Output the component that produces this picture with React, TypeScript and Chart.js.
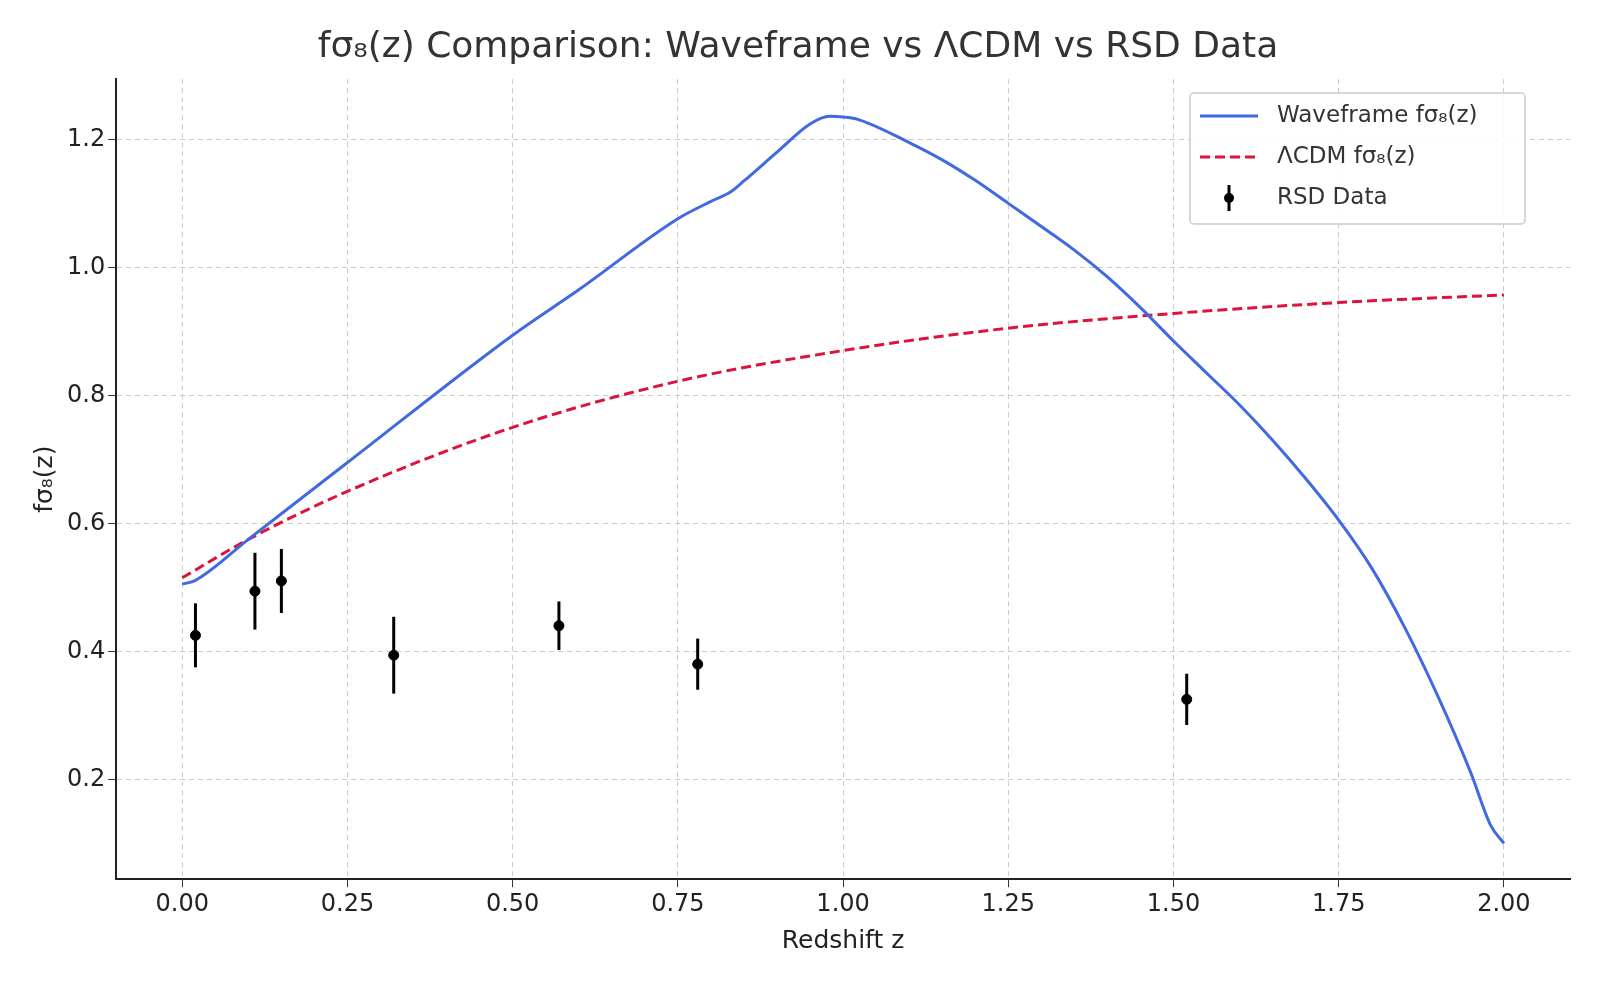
import { useRef, useEffect } from 'react';
import { Chart, registerables } from 'chart.js';

Chart.register(...registerables);

const waveZ = [0, 0.02, 0.1, 0.25, 0.5, 0.6, 0.75, 0.8, 0.83, 0.85, 0.9, 0.95, 0.98, 1.0, 1.02, 1.1, 1.15, 1.2, 1.25, 1.3, 1.35, 1.4, 1.45, 1.5, 1.55, 1.6, 1.65, 1.7, 1.75, 1.8, 1.85, 1.9, 1.95, 1.98, 2.0];
const waveF = [0.505, 0.511, 0.575, 0.695, 0.894, 0.965, 1.076, 1.103, 1.118, 1.135, 1.18, 1.224, 1.236, 1.235, 1.232, 1.195, 1.168, 1.136, 1.1, 1.064, 1.027, 0.985, 0.937, 0.885, 0.835, 0.785, 0.73, 0.67, 0.605, 0.53, 0.437, 0.33, 0.21, 0.128, 0.1];

const lcdmZ = [0, 0.1, 0.25, 0.5, 0.75, 1.0, 1.25, 1.5, 1.75, 2.0];
const lcdmF = [0.515, 0.575, 0.65, 0.75, 0.822, 0.87, 0.905, 0.928, 0.945, 0.957];

const rsdZ = [0.02, 0.11, 0.15, 0.32, 0.57, 0.78, 1.52];
const rsdF = [0.425, 0.494, 0.51, 0.394, 0.44, 0.38, 0.325];
const rsdErr = [0.05, 0.06, 0.05, 0.06, 0.038, 0.04, 0.04];

const xTicks = [0, 0.25, 0.5, 0.75, 1, 1.25, 1.5, 1.75, 2];
const yTicks = [0.2, 0.4, 0.6, 0.8, 1.0, 1.2];
const FONT = 'DejaVu Sans';

const App = () => {
  const canvasRef = useRef<HTMLCanvasElement | null>(null);

  useEffect(() => {
    if (!canvasRef.current) return;

    // error bars + legend drawn on the canvas
    const extras = {
      id: 'extras',
      afterDatasetsDraw(chart: any) {
        const ctx = chart.ctx;
        const xs = chart.scales.x;
        const ys = chart.scales.y;
        ctx.save();
        ctx.strokeStyle = '#000';
        ctx.fillStyle = '#000';
        ctx.lineWidth = 3;
        ctx.setLineDash([]);
        rsdZ.forEach((z, i) => {
          const px = xs.getPixelForValue(z);
          ctx.beginPath();
          ctx.moveTo(px, ys.getPixelForValue(rsdF[i] - rsdErr[i]));
          ctx.lineTo(px, ys.getPixelForValue(rsdF[i] + rsdErr[i]));
          ctx.stroke();
        });

        // legend
        const lx = 1190, ly = 93, lw = 335, lh = 131;
        ctx.fillStyle = 'rgba(255,255,255,0.85)';
        ctx.strokeStyle = '#cccccc';
        ctx.lineWidth = 1.5;
        ctx.beginPath();
        ctx.roundRect(lx, ly, lw, lh, 4);
        ctx.fill();
        ctx.stroke();
        ctx.font = `23px "${FONT}"`;
        ctx.textBaseline = 'middle';
        const rows = ['Waveframe fσ₈(z)', 'ΛCDM fσ₈(z)', 'RSD Data'];
        rows.forEach((t, i) => {
          const y = ly + 23 + i * 41;
          ctx.fillStyle = '#333';
          ctx.fillText(t, lx + 87, y);
          if (i === 0) {
            ctx.strokeStyle = '#4169e1'; ctx.lineWidth = 3; ctx.setLineDash([]);
            ctx.beginPath(); ctx.moveTo(lx + 10, y); ctx.lineTo(lx + 68, y); ctx.stroke();
          } else if (i === 1) {
            ctx.strokeStyle = '#dc143c'; ctx.lineWidth = 3; ctx.setLineDash([10, 5]);
            ctx.beginPath(); ctx.moveTo(lx + 10, y); ctx.lineTo(lx + 68, y); ctx.stroke();
            ctx.setLineDash([]);
          } else {
            ctx.strokeStyle = '#000'; ctx.fillStyle = '#000'; ctx.lineWidth = 3;
            ctx.beginPath(); ctx.moveTo(lx + 39, y - 13); ctx.lineTo(lx + 39, y + 13); ctx.stroke();
            ctx.beginPath(); ctx.arc(lx + 39, y, 5, 0, Math.PI * 2); ctx.fill();
          }
        });
        ctx.restore();
      }
    };

    const chart = new Chart(canvasRef.current, {
      type: 'line',
      data: {
        datasets: [
          {
            label: 'Waveframe fσ₈(z)',
            data: waveZ.map((z, i) => ({ x: z, y: waveF[i] })),
            borderColor: '#4169e1',
            borderWidth: 3,
            pointRadius: 0,
            cubicInterpolationMode: 'monotone',
          },
          {
            label: 'ΛCDM fσ₈(z)',
            data: lcdmZ.map((z, i) => ({ x: z, y: lcdmF[i] })),
            borderColor: '#dc143c',
            borderWidth: 3,
            borderDash: [10, 5],
            pointRadius: 0,
            cubicInterpolationMode: 'monotone',
          },
          {
            label: 'RSD Data',
            data: rsdZ.map((z, i) => ({ x: z, y: rsdF[i] })),
            showLine: false,
            pointRadius: 5,
            pointBackgroundColor: '#000',
            pointBorderColor: '#000',
          },
        ],
      },
      options: {
        responsive: false,
        animation: false,
        layout: { padding: { left: 26, right: 30, top: 6, bottom: 40 } },
        plugins: {
          legend: { display: false },
          tooltip: { enabled: false },
          title: {
            display: true,
            text: 'fσ₈(z) Comparison: Waveframe vs ΛCDM vs RSD Data',
            color: '#333',
            font: { family: FONT, size: 36, weight: 'normal' },
            padding: { top: 20, bottom: 10 },
          },
        },
        scales: {
          x: {
            type: 'linear',
            min: -0.1,
            max: 2.1,
            afterBuildTicks: (s: any) => {
              s.ticks = xTicks.map((v) => ({ value: v }));
            },
            ticks: {
              color: '#222',
              font: { family: FONT, size: 24 },
              callback: (v: any) => Number(v).toFixed(2),
              maxRotation: 0,
            },
            grid: { color: '#cccccc', lineWidth: 1, tickLength: 8, tickColor: '#333' },
            border: { color: '#222', width: 2, dash: [5, 4] },
            title: { display: true, text: 'Redshift z', color: '#222', font: { family: FONT, size: 25 } },
          },
          y: {
            type: 'linear',
            min: 0.044,
            max: 1.294,
            afterBuildTicks: (s: any) => {
              s.ticks = yTicks.map((v) => ({ value: v }));
            },
            ticks: {
              color: '#222',
              font: { family: FONT, size: 24 },
              callback: (v: any) => Number(v).toFixed(1),
            },
            grid: { color: '#cccccc', lineWidth: 1, tickLength: 8, tickColor: '#333' },
            border: { color: '#222', width: 2, dash: [5, 4] },
            title: { display: true, text: 'fσ₈(z)', color: '#222', font: { family: FONT, size: 25 } },
          },
        },
      },
      plugins: [extras],
    } as any);

    return () => chart.destroy();
  }, []);

  return (
    <div style={{ position: 'fixed', left: 0, top: 0, width: 1600, height: 1000, background: '#fff' }}>
      <canvas ref={canvasRef} width={1600} height={1000} />
    </div>
  );
};

export default App;
